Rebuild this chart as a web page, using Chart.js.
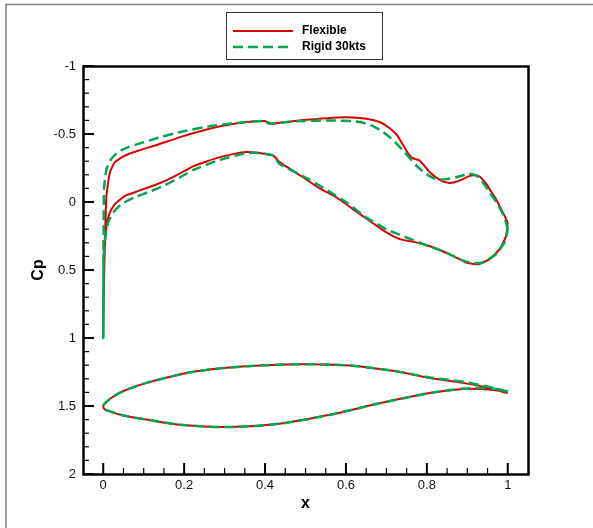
<!DOCTYPE html>
<html>
<head>
<meta charset="utf-8">
<script src="https://cdn.jsdelivr.net/npm/chart.js@4.4.1/dist/chart.umd.min.js"></script>
<style>
  html, body { margin: 0; padding: 0; background: #fff; }
  #cpChart { display: block; }
</style>
</head>
<body>
<canvas id="cpChart" width="593" height="528"></canvas>
<script>
// Cp distribution, x/c from trailing edge along upper surface to LE, then lower surface back to TE
const flexX = [1.0, 0.985, 0.971, 0.958, 0.947, 0.935, 0.926, 0.915, 0.905, 0.88, 0.868, 0.856, 0.843, 0.831, 0.807, 0.79, 0.782, 0.765, 0.757, 0.749, 0.735, 0.724, 0.705, 0.683, 0.65, 0.617, 0.58, 0.535, 0.5, 0.436, 0.416, 0.40, 0.354, 0.27, 0.19, 0.128, 0.086, 0.054, 0.029, 0.0165, 0.008, 0.005, 0.003, 0.001, 0.0,
  0.001, 0.002, 0.004, 0.008, 0.0165, 0.029, 0.054, 0.086, 0.128, 0.16, 0.19, 0.222, 0.255, 0.288, 0.32, 0.354, 0.385, 0.42, 0.436, 0.5, 0.535, 0.576, 0.617, 0.658, 0.70, 0.733, 0.782, 0.823, 0.864, 0.897, 0.926, 0.955, 0.98, 0.996, 1.0];
const flexCp = [0.15, 0.06, -0.022, -0.08, -0.133, -0.175, -0.194, -0.196, -0.19, -0.157, -0.145, -0.14, -0.148, -0.165, -0.219, -0.28, -0.305, -0.322, -0.345, -0.379, -0.45, -0.50, -0.55, -0.588, -0.612, -0.622, -0.622, -0.613, -0.605, -0.583, -0.576, -0.596, -0.588, -0.544, -0.477, -0.415, -0.377, -0.342, -0.293, -0.219, -0.047, 0.2, 0.45, 0.75, 1.0,
  0.75, 0.52, 0.33, 0.17, 0.076, 0.015, -0.045, -0.08, -0.125, -0.165, -0.21, -0.262, -0.298, -0.33, -0.352, -0.367, -0.36, -0.342, -0.293, -0.17, -0.1, -0.035, 0.052, 0.138, 0.224, 0.273, 0.303, 0.342, 0.396, 0.445, 0.458, 0.42, 0.347, 0.249, 0.15];

const rigidX = [1.0, 0.992, 0.975, 0.96, 0.947, 0.935, 0.922, 0.905, 0.89, 0.872, 0.84, 0.82, 0.807, 0.79, 0.774, 0.741, 0.725, 0.708, 0.69, 0.667, 0.64, 0.617, 0.56, 0.477, 0.41, 0.40, 0.354, 0.27, 0.19, 0.128, 0.095, 0.062, 0.037, 0.02, 0.008, 0.002, 0.001, 0.0005, 0.0,
  0.0005, 0.001, 0.003, 0.012, 0.025, 0.045, 0.078, 0.128, 0.16, 0.19, 0.222, 0.288, 0.354, 0.385, 0.42, 0.436, 0.5, 0.535, 0.56, 0.60, 0.65, 0.70, 0.749, 0.798, 0.848, 0.88, 0.914, 0.938, 0.971, 0.992, 1.0];
const rigidCp = [0.2, 0.113, 0.015, -0.05, -0.108, -0.16, -0.194, -0.207, -0.197, -0.182, -0.165, -0.172, -0.19, -0.225, -0.268, -0.379, -0.43, -0.477, -0.52, -0.558, -0.585, -0.595, -0.60, -0.593, -0.576, -0.596, -0.588, -0.56, -0.515, -0.465, -0.435, -0.404, -0.367, -0.317, -0.24, -0.1, 0.2, 0.6, 1.0,
  0.7, 0.45, 0.3, 0.15, 0.076, 0.015, -0.035, -0.092, -0.135, -0.182, -0.235, -0.31, -0.36, -0.36, -0.342, -0.28, -0.18, -0.12, -0.075, 0.0, 0.113, 0.2, 0.26, 0.317, 0.371, 0.42, 0.45, 0.445, 0.384, 0.297, 0.2];

// airfoil section outline plotted in the same axes
const flexShapeX = [1.0, 0.955, 0.889, 0.807, 0.724, 0.65, 0.60, 0.477, 0.354, 0.23, 0.107, 0.05, 0.025, 0.008, 0.0, 0.004, 0.017, 0.05, 0.107, 0.19, 0.313, 0.436, 0.56, 0.683, 0.807, 0.889, 0.93, 0.971, 1.0];
const flexShapeY = [1.405, 1.368, 1.33, 1.294, 1.245, 1.215, 1.20, 1.193, 1.208, 1.245, 1.33, 1.39, 1.43, 1.47, 1.5, 1.525, 1.54, 1.57, 1.60, 1.638, 1.655, 1.63, 1.565, 1.48, 1.405, 1.375, 1.375, 1.385, 1.405];
const rigidShapeX = [1.0, 0.955, 0.889, 0.807, 0.724, 0.65, 0.60, 0.477, 0.354, 0.23, 0.107, 0.05, 0.025, 0.008, 0.0, 0.004, 0.017, 0.05, 0.107, 0.19, 0.313, 0.436, 0.56, 0.683, 0.807, 0.889, 0.93, 0.971, 1.0];
const rigidShapeY = [1.395, 1.36, 1.322, 1.29, 1.245, 1.215, 1.20, 1.193, 1.208, 1.245, 1.33, 1.39, 1.43, 1.47, 1.5, 1.525, 1.54, 1.57, 1.60, 1.638, 1.655, 1.63, 1.565, 1.48, 1.405, 1.372, 1.368, 1.375, 1.395];

const xTicks = [0, 0.2, 0.4, 0.6, 0.8, 1];
const yTicks = [-1, -0.5, 0, 0.5, 1, 1.5, 2];

const seriesNames = ['Flexible', 'Rigid 30kts'];
const RED = '#dd0000';
const GREEN = '#00a651';
const FONT = "'Liberation Sans', Arial, sans-serif";

function toPoints(xs, ys) {
    return xs.map((x, i) => ({ x: x, y: ys[i] }));
}

// inward tick marks (major + minor), frame, outer border and boxed legend
const framePlugin = {
    id: 'frame',
    beforeDraw(chart) {
        const ctx = chart.ctx;
        ctx.save();
        ctx.strokeStyle = '#808080';
        ctx.lineWidth = 1.5;
        ctx.beginPath();
        ctx.moveTo(6, chart.height);
        ctx.lineTo(6, 4.5);
        ctx.lineTo(chart.width, 4.5);
        ctx.stroke();
        ctx.restore();
    },
    afterDraw(chart) {
        const { ctx, chartArea: a, scales } = chart;
        ctx.save();
        ctx.strokeStyle = '#000';
        // x ticks every 0.05
        for (let i = 0; i <= 20; i++) {
            const px = scales.x.getPixelForValue(i * 0.05);
            const major = i % 4 === 0;
            ctx.lineWidth = major ? 2 : 1.2;
            ctx.beginPath();
            ctx.moveTo(px, a.bottom);
            ctx.lineTo(px, a.bottom - (major ? 11 : 6));
            ctx.stroke();
        }
        // y ticks every 0.1
        for (let i = 0; i <= 30; i++) {
            const py = scales.y.getPixelForValue(-1 + i * 0.1);
            const major = i % 5 === 0;
            ctx.lineWidth = major ? 2 : 1.2;
            ctx.beginPath();
            ctx.moveTo(a.left, py);
            ctx.lineTo(a.left + (major ? 11 : 6), py);
            ctx.stroke();
        }
        ctx.lineWidth = 2.5;
        ctx.strokeRect(a.left + 0.5, a.top + 0.5, a.right - a.left, a.bottom - a.top);

        // legend box
        const bx = 226.5, by = 12.5, bw = 156, bh = 47;
        ctx.lineWidth = 1;
        ctx.strokeStyle = '#333';
        ctx.strokeRect(bx, by, bw, bh);
        const ds = chart.data.datasets;
        [0, 1].forEach((k, row) => {
            const ly = 31 + row * 16;
            ctx.strokeStyle = ds[k].borderColor;
            ctx.lineWidth = ds[k].borderWidth;
            ctx.setLineDash(ds[k].borderDash || []);
            ctx.beginPath();
            ctx.moveTo(233, ly);
            ctx.lineTo(293, ly);
            ctx.stroke();
            ctx.setLineDash([]);
            ctx.fillStyle = '#000';
            ctx.font = 'bold 12px ' + FONT;
            ctx.textAlign = 'left';
            ctx.textBaseline = 'middle';
            ctx.fillText(ds[k].label, 302, ly);
        });
        ctx.restore();
    }
};

const ctx = document.getElementById('cpChart').getContext('2d');
const cpChart = new Chart(ctx, {
    type: 'scatter',
    data: {
        datasets: [
            {
                label: seriesNames[0],
                data: toPoints(flexX, flexCp),
                borderColor: RED,
                borderWidth: 2,
                showLine: true,
                pointRadius: 0,
                tension: 0.15,
                order: 2
            },
            {
                label: seriesNames[1],
                data: toPoints(rigidX, rigidCp),
                borderColor: GREEN,
                borderWidth: 2.5,
                borderDash: [10, 5],
                showLine: true,
                pointRadius: 0,
                tension: 0.15,
                order: 1
            },
            {
                label: seriesNames[0] + ' section',
                data: toPoints(flexShapeX, flexShapeY),
                borderColor: RED,
                borderWidth: 2,
                showLine: true,
                pointRadius: 0,
                tension: 0.3,
                order: 4
            },
            {
                label: seriesNames[1] + ' section',
                data: toPoints(rigidShapeX, rigidShapeY),
                borderColor: GREEN,
                borderWidth: 2.5,
                borderDash: [10, 5],
                showLine: true,
                pointRadius: 0,
                tension: 0.3,
                order: 3
            }
        ]
    },
    options: {
        responsive: false,
        animation: false,
        layout: { padding: { top: 66, right: 65, bottom: 0, left: 0 } },
        plugins: {
            legend: { display: false },
            tooltip: { enabled: false }
        },
        scales: {
            x: {
                type: 'linear',
                min: -0.05,
                max: 1.05,
                grid: { display: false, drawTicks: false },
                border: { display: false },
                afterBuildTicks: s => { s.ticks = xTicks.map(v => ({ value: v })); },
                afterFit: s => { s.height = 54; },
                ticks: {
                    padding: 4,
                    color: '#111',
                    font: { family: FONT, size: 13 },
                    callback: v => String(v)
                },
                title: {
                    display: true,
                    text: 'x',
                    color: '#000',
                    font: { family: FONT, size: 16, weight: 'bold' },
                    padding: { top: 0, bottom: 15 }
                }
            },
            y: {
                type: 'linear',
                reverse: true,
                min: -1,
                max: 2,
                grid: { display: false, drawTicks: false },
                border: { display: false },
                afterBuildTicks: s => { s.ticks = yTicks.map(v => ({ value: v })); },
                afterFit: s => { s.width = 83; },
                ticks: {
                    padding: 7,
                    color: '#111',
                    font: { family: FONT, size: 13 },
                    callback: v => String(v)
                },
                title: {
                    display: true,
                    text: 'Cp',
                    color: '#000',
                    font: { family: FONT, size: 16, weight: 'bold' },
                    padding: { top: 29, bottom: 0 }
                }
            }
        }
    },
    plugins: [framePlugin]
});
</script>
</body>
</html>
